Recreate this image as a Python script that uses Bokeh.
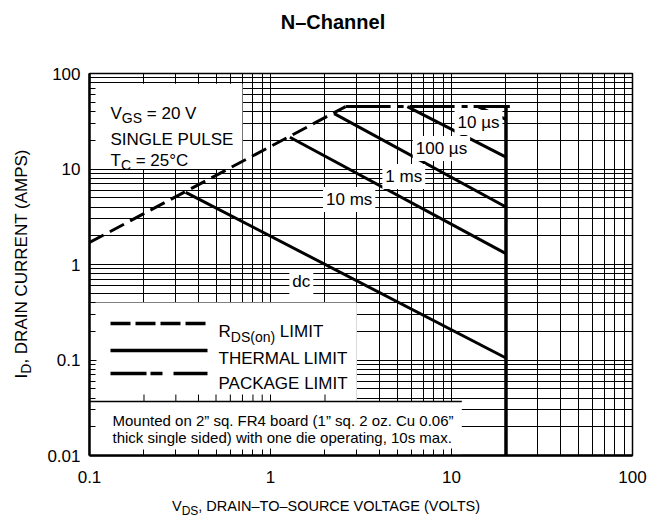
import math
from bokeh.plotting import figure
from bokeh.layouts import column, row
from bokeh.models import Label, Arrow, FixedTicker, CustomJSTickFormatter, Range1d, Div
from bokeh.embed import file_html
from bokeh.resources import INLINE

# ---------------- data ----------------
x_ticks = [0.1, 1, 10, 100]
x_tick_labels = ["0.1", "1", "10", "100"]
y_ticks = [0.01, 0.1, 1, 10, 100]
y_tick_labels = ["0.01", "0.1", "1", "10", "100"]

rds_v = [0.1, 2.6]            # R_DS(on) limit
rds_i = [1.7, 45.0]
pkg_v = [2.6, 21.0]           # package limit
pkg_i = [45.0, 45.0]
bvdss_v = [20.0, 20.0]        # V_DS max
bvdss_i = [0.01, 45.0]
thermal_names = ["dc", "10 ms", "1 ms", "100 \u00b5s", "10 \u00b5s"]
thermal_v = [[0.34, 20.0], [1.28, 20.0], [2.25, 20.0], [5.7, 20.0], [14.0, 20.0]]
thermal_i = [[5.7, 0.105], [21.5, 1.3], [38.0, 4.0], [45.0, 13.3], [45.0, 33.0]]

x_minor = [m * 10.0 ** d for d in range(-1, 2) for m in range(2, 10)]
y_minor = [m * 10.0 ** d for d in range(-2, 2) for m in range(2, 10)]

FONT = "Liberation Sans"
CSSFONT = "'Liberation Sans', Arial, sans-serif"

# ---------------- layout geometry (page pixels) ----------------
PAGE_W = 650
TITLE_H = 45
YLAB_W = 40
FL, FR, FT, FB = 89, 632, 73, 455      # frame edges on the page
FIG_W = PAGE_W - YLAB_W
FIG_H = 490 - TITLE_H
XLAB_H = 31

p = figure(width=FIG_W, height=FIG_H, x_axis_type="log", y_axis_type="log",
           x_range=Range1d(0.1, 100), y_range=Range1d(0.01, 100),
           output_backend="svg", toolbar_location=None,
           min_border_left=FL - YLAB_W, min_border_right=FIG_W - (FR - YLAB_W),
           min_border_top=FT - TITLE_H, min_border_bottom=FIG_H - (FB - TITLE_H),
           margin=0)
p.background_fill_color = "white"
p.border_fill_color = "white"
p.outline_line_color = "black"
p.outline_line_width = 1.5

for ax, grid, ticks, labels, minor in [
        (p.xaxis[0], p.xgrid[0], x_ticks, x_tick_labels, x_minor),
        (p.yaxis[0], p.ygrid[0], y_ticks, y_tick_labels, y_minor)]:
    tk = FixedTicker(ticks=ticks, minor_ticks=minor)
    ax.ticker = tk
    grid.ticker = tk
    ax.formatter = CustomJSTickFormatter(args=dict(labels=labels),
                                         code="return labels[ticks.indexOf(tick)];")
    ax.axis_line_width = 2.5
    ax.axis_line_color = "black"
    ax.major_tick_in = 7
    ax.major_tick_out = 0
    ax.minor_tick_in = 6
    ax.minor_tick_out = 0
    ax.major_tick_line_color = "black"
    ax.minor_tick_line_color = "black"
    ax.major_label_text_font = FONT
    ax.major_label_text_font_size = "17px"
    ax.major_label_text_color = "black"
    grid.grid_line_color = "black"
    grid.grid_line_width = 1
    grid.minor_grid_line_color = "black"
    grid.minor_grid_line_width = 1
p.xaxis[0].major_label_standoff = 15
p.yaxis[0].major_label_standoff = 9

# white boxes behind texts (glyph level: above grid, below axis ticks)
p.quad(left=[0.1], right=[0.7], bottom=[10], top=[78], fill_color="white", line_color=None)
p.quad(left=[0.1], right=[3.0], bottom=[0.0367], top=[0.4], fill_color="white", line_color=None)
p.quad(left=[0.1], right=[11.4], bottom=[0.01], top=[0.0367], fill_color="white", line_color=None)
p.segment(x0=[0.1], y0=[0.0367], x1=[11.4], y1=[0.0367], line_color="black", line_width=1.5)
# small upward ticks on the note-box edge inside the legend box
edge_ticks = [t for t in x_minor + x_ticks if 0.1 < t < 3.0]
p.segment(x0=edge_ticks, y0=[0.0367] * len(edge_ticks), x1=edge_ticks,
          y1=[0.0435] * len(edge_ticks), line_color="black", line_width=1)

# curves
p.line(rds_v, rds_i, line_width=3, line_dash="16 7", line_color="black")
p.line(pkg_v, pkg_i, line_width=3, line_dash="45 7 6 6", line_color="black")
for v, i in zip(thermal_v, thermal_i):
    p.line(v, i, line_width=3, line_color="black")
p.line(bvdss_v, bvdss_i, line_width=3.5, line_color="black")

# ---------------- text helpers ----------------
AFM = {" ": 278, "\u00a0": 278, "(": 333, ")": 333, ",": 278, "-": 333, ".": 278, "=": 584,
       "\u2013": 556, "\u00b0": 400, "\u00b5": 556, "\u201d": 333}
for c in "0123456789":
    AFM[c] = 556
AFM.update(dict(A=667, B=667, C=722, D=722, E=667, F=611, G=778, H=722, I=278, J=500,
                K=667, L=556, M=833, N=722, O=778, P=667, Q=778, R=722, S=667, T=611,
                U=722, V=667, W=944, X=667, Y=667, Z=611))


def tw(s, size):
    return sum(AFM.get(c, 556) for c in s) * size / 1000.0


def sx(px):
    return px - FL


def sy(py):
    return FB - py


def rich(pieces, px, py):
    adv = 0
    for t, s, d in pieces:
        p.add_layout(Label(text=t, x=sx(px) + adv, y=sy(py) - d,
                           x_units="screen", y_units="screen", text_font=FONT,
                           text_font_size=f"{s}px", text_color="black",
                           text_align="left", text_baseline="alphabetic"))
        adv += tw(t, s)


NB = "\u00a0"
# conditions box
rich([("V", 17, 0), ("GS", 14, 4), (NB + "= 20 V", 17, 0)], 110, 113)
rich([("SINGLE PULSE", 17, 0)], 110, 139)
rich([("T", 17, 0), ("C", 14, 4), (NB + "= 25\u00b0C", 17, 0)], 110, 160)

# legend
for yy, dash in [(323, "20 5"), (350, "solid"), (373, "36 4 12 11")]:
    p.add_layout(Arrow(start=None, end=None, x_start=sx(110), y_start=sy(yy),
                       x_end=sx(207), y_end=sy(yy), start_units="screen", end_units="screen",
                       line_width=3.5, line_color="black", line_dash=dash))
rich([("R", 17, 0), ("DS(on)", 14, 5), (NB + "LIMIT", 17, 0)], 218, 331)
rich([("THERMAL LIMIT", 17, 0)], 218, 358)
rich([("PACKAGE LIMIT", 17, 0)], 218, 383)

# note
rich([("Mounted on 2\u201d sq. FR4 board (1\u201d sq. 2 oz. Cu 0.06\u201d", 15, 0)], 112, 419.5)
rich([("thick single sided) with one die operating, 10s max.", 15, 0)], 112, 436.5)

# curve labels
label_pos = [(1.48, 0.664), (2.72, 4.8), (5.45, 8.35), (8.8, 16.4), (14.1, 30.7)]
for name, (lx, ly) in zip(thermal_names, label_pos):
    p.add_layout(Label(x=lx, y=ly, text=name, text_align="center", text_baseline="middle",
                       text_font=FONT, text_font_size="17px", text_color="black",
                       background_fill_color="white", padding=3))

# ---------------- titles (HTML text around the figure) ----------------
title_html = (
    f'<div style="position:relative;width:{PAGE_W}px;height:{TITLE_H}px;">'
    f'<div style="position:absolute;left:333px;top:12px;transform:translateX(-50%);'
    f'white-space:nowrap;font-family:{CSSFONT};font-weight:bold;font-size:20px;'
    f'line-height:20px;color:black;">N\u2013Channel</div></div>')
ylab_html = (
    f'<div style="position:relative;width:{YLAB_W}px;height:{FIG_H}px;">'
    f'<div style="position:absolute;left:21.5px;top:{264 - TITLE_H}px;'
    f'transform:translate(-50%,-50%) rotate(-90deg);white-space:nowrap;'
    f'font-family:{CSSFONT};font-size:17px;line-height:17px;color:black;">'
    f'I<span style="font-size:14px;position:relative;top:4px;">D</span>'
    f', DRAIN CURRENT (AMPS)</div></div>')
xlab_html = (
    f'<div style="position:relative;width:{PAGE_W}px;height:{XLAB_H}px;">'
    f'<div style="position:absolute;left:326px;top:9px;transform:translateX(-50%);'
    f'white-space:nowrap;font-family:{CSSFONT};font-size:14.5px;line-height:15px;color:black;">'
    f'V<span style="font-size:12px;position:relative;top:4px;">DS</span>'
    f', DRAIN\u2013TO\u2013SOURCE VOLTAGE (VOLTS)</div></div>')

title_div = Div(text=title_html, width=PAGE_W, height=TITLE_H, margin=0)
ylab_div = Div(text=ylab_html, width=YLAB_W, height=FIG_H, margin=0)
xlab_div = Div(text=xlab_html, width=PAGE_W, height=XLAB_H, margin=0)

layout = column(title_div, row(ylab_div, p, spacing=0, margin=0), xlab_div,
                spacing=0, margin=0)

open("out.html", "w").write(file_html(layout, INLINE))
